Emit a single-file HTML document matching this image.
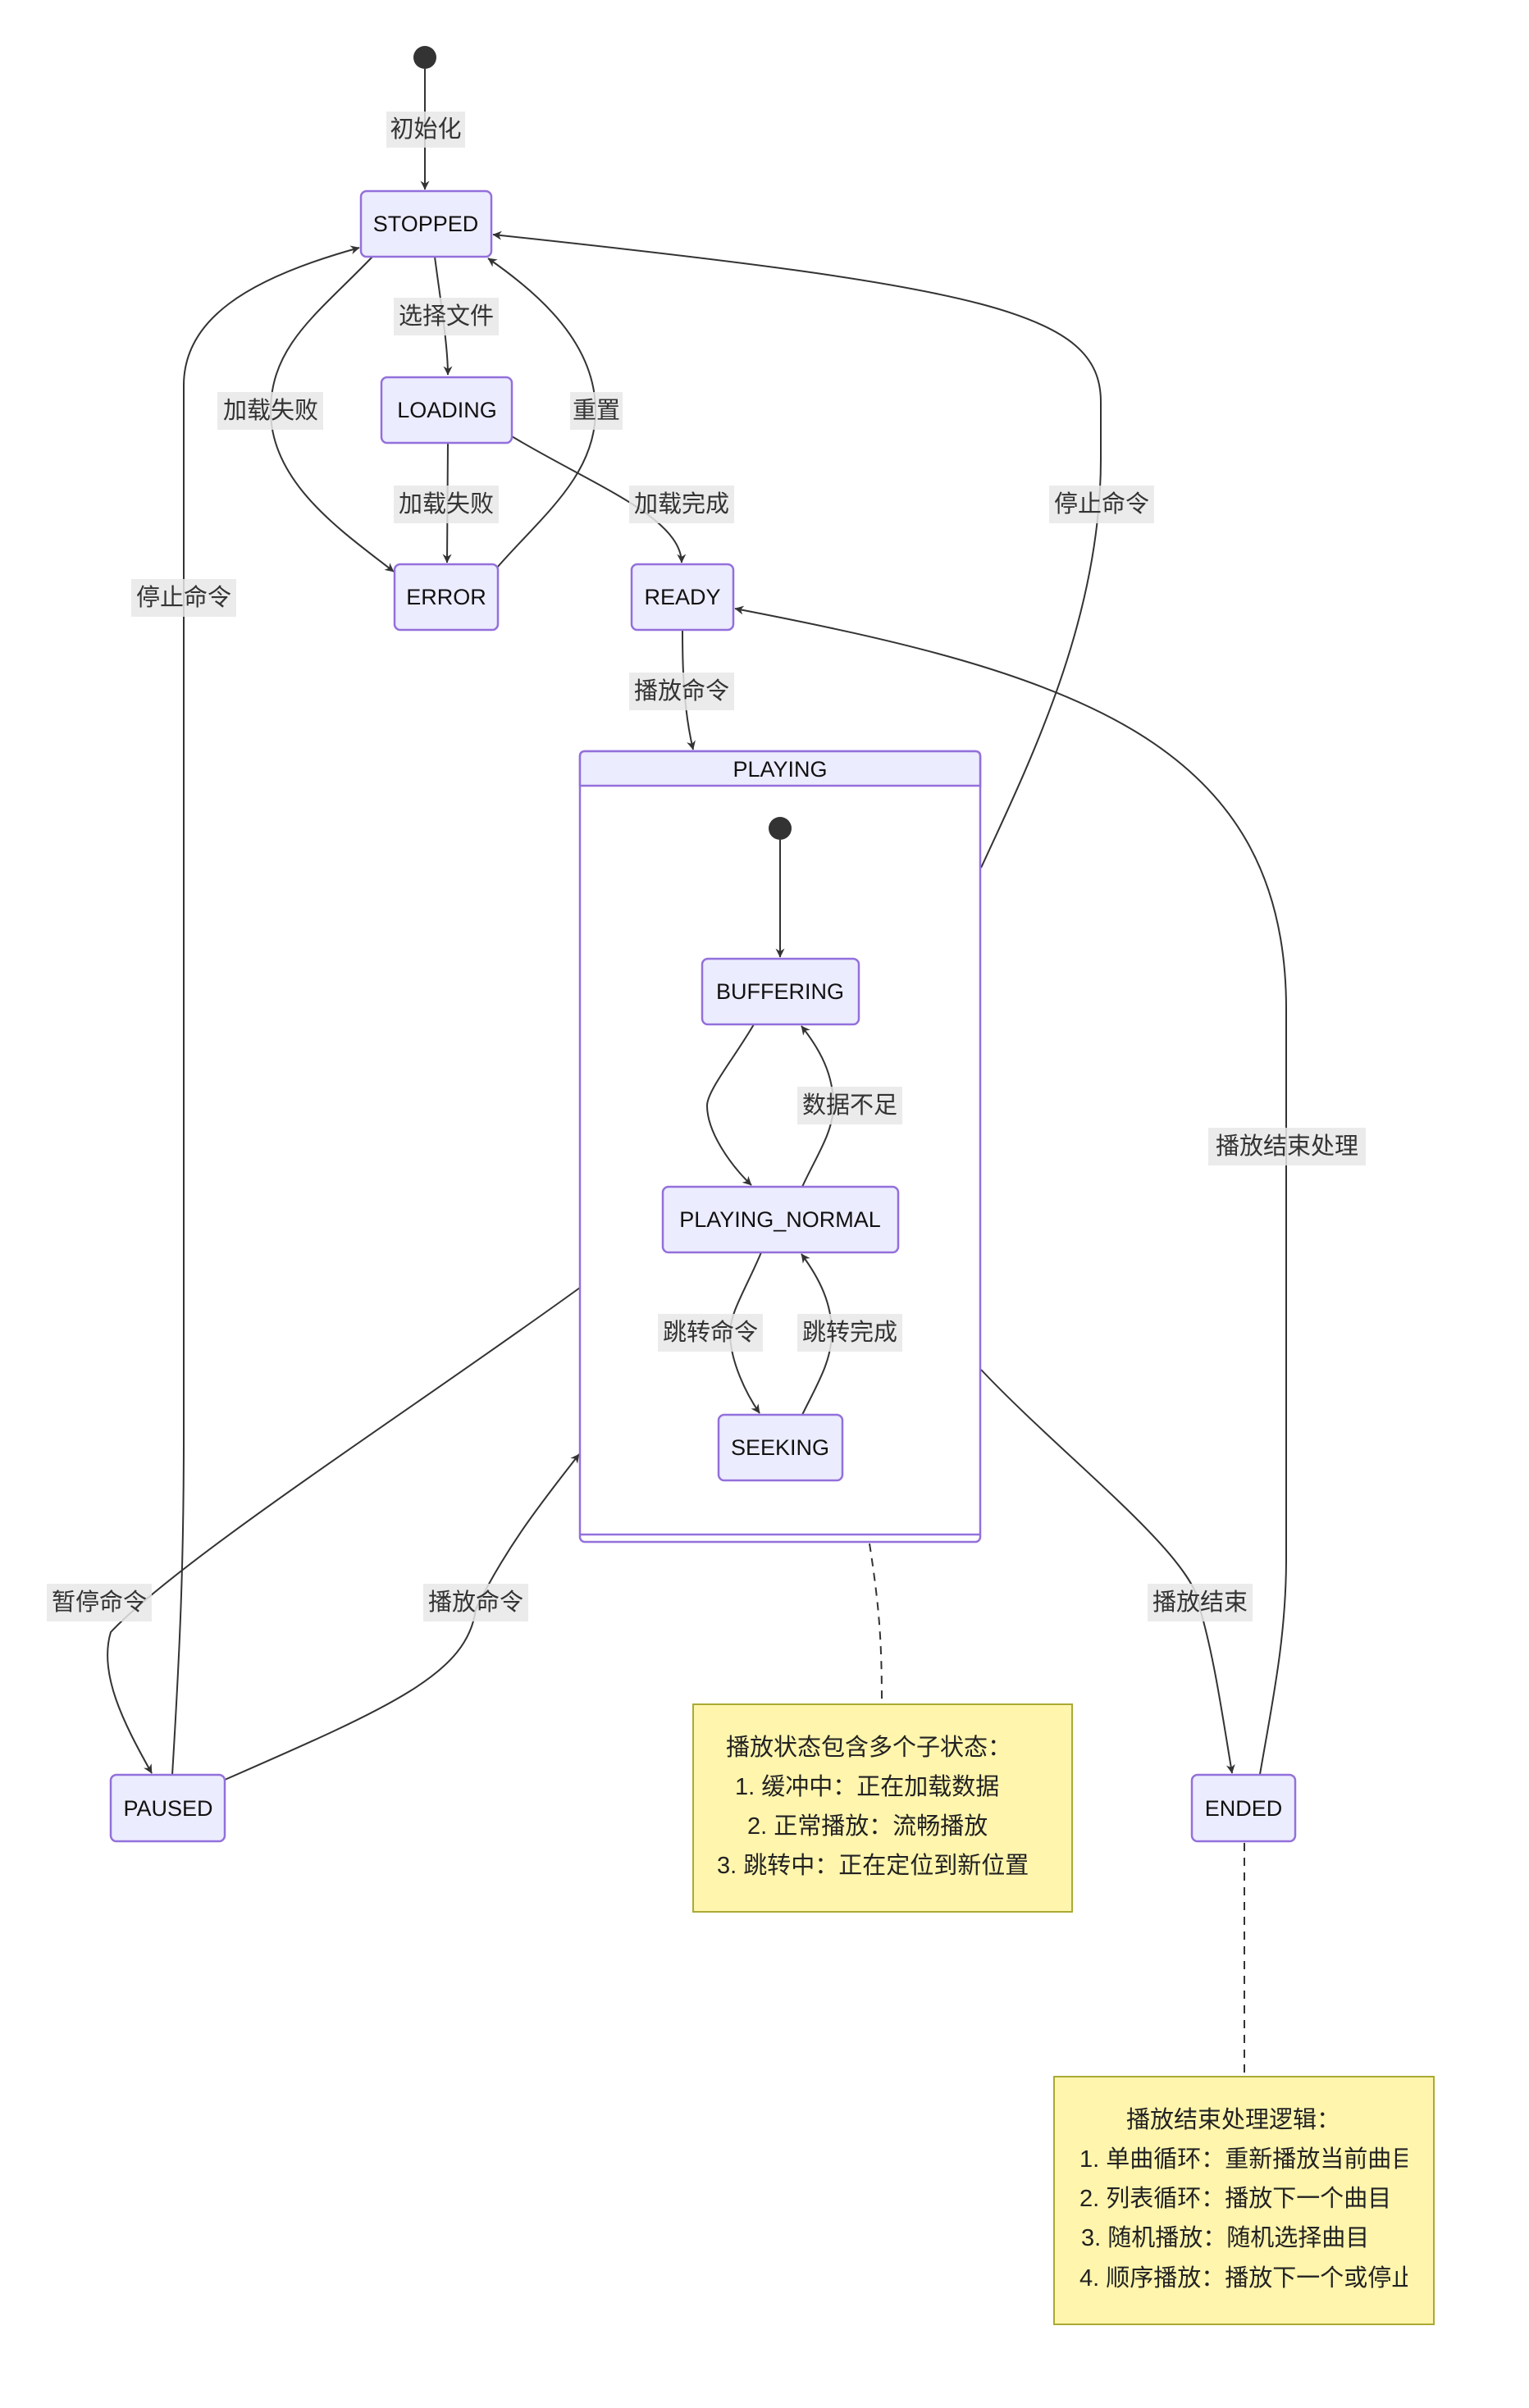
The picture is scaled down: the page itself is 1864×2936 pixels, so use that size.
<!DOCTYPE html>
<html><head><meta charset="utf-8"><style>
html,body{margin:0;padding:0;background:#fff;}
svg{display:block;}
.n{fill:#ECECFF;stroke:#9370DB;stroke-width:2.5;}
.t{font-family:"Liberation Sans","Noto Sans CJK SC",sans-serif;font-size:27px;fill:#111;text-anchor:middle;dominant-baseline:central;}
.e{fill:none;stroke:#333;stroke-width:2;}
.lb{fill:#e8e8e8;opacity:0.85;}
.l{font-family:"Liberation Sans","Noto Sans CJK SC",sans-serif;font-size:29px;fill:#333;text-anchor:middle;dominant-baseline:central;}
.nt{fill:#fff5ad;stroke:#aaaa33;stroke-width:2;}
.ntt{font-family:"Liberation Sans","Noto Sans CJK SC",sans-serif;font-size:29px;fill:#222;dominant-baseline:central;}
</style></head><body>
<svg width="1864" height="2936" viewBox="0 0 1864 2936" xmlns="http://www.w3.org/2000/svg">
<defs>
<marker id="a" viewBox="0 0 20 20" refX="19" refY="10" markerWidth="11" markerHeight="11" markerUnits="userSpaceOnUse" orient="auto"><path d="M0,0 L20,10 L0,20 L6,10 z" fill="#333"/></marker>
<clipPath id="c1"><rect x="846" y="2078" width="410" height="253"/></clipPath>
<clipPath id="c2"><rect x="1286" y="2532" width="430" height="302"/></clipPath>
</defs>

<!-- edges -->
<circle cx="518" cy="70" r="14" fill="#333"/>
<path class="e" d="M518,84 L518,231" marker-end="url(#a)"/>
<path class="e" d="M530,313 C536,360 546,420 546,457" marker-end="url(#a)"/>
<path class="e" d="M454,313 C390,380 330,420 330,501 C330,590 420,650 480,697" marker-end="url(#a)"/>
<path class="e" d="M606,692 C660,630 726,580 726,501 C726,420 660,360 595,315" marker-end="url(#a)"/>
<path class="e" d="M546,540 L545,686" marker-end="url(#a)"/>
<path class="e" d="M624,532 C720,590 830,630 831,686" marker-end="url(#a)"/>
<path class="e" d="M832,768 C832,800 832,860 845,914" marker-end="url(#a)"/>
<path class="e" d="M1196,1058 C1260,920 1342,750 1342,560 L1342,490 C1342,380 1200,350 601,286" marker-end="url(#a)"/>
<path class="e" d="M1534,2175 C1550,2080 1568,2000 1568,1900 L1568,1230 C1568,900 1300,820 896,742" marker-end="url(#a)"/>
<path class="e" d="M1196,1670 C1300,1780 1460,1900 1463,1962 C1480,2020 1490,2090 1502,2162" marker-end="url(#a)"/>
<path class="e" d="M707,1570 C500,1720 220,1900 135,1990 C120,2040 150,2100 185,2162" marker-end="url(#a)"/>
<path class="e" d="M274,2170 C480,2080 570,2040 580,1962 C620,1880 670,1820 706,1773" marker-end="url(#a)"/>
<path class="e" d="M210,2164 C220,2000 224,1900 224,1750 L224,470 C224,390 300,340 438,302" marker-end="url(#a)"/>
<path class="e" d="M1060,1882 C1072,1960 1075,2000 1075,2078" stroke-dasharray="10,8"/>
<path class="e" d="M1517,2247 L1517,2532" stroke-dasharray="10,8"/>

<!-- nodes -->
<rect class="n" x="440" y="233" width="159" height="80" rx="7"/><text class="t" x="519" y="273">STOPPED</text>
<rect class="n" x="465" y="460" width="159" height="80" rx="7"/><text class="t" x="545" y="500">LOADING</text>
<rect class="n" x="481" y="688" width="126" height="80" rx="7"/><text class="t" x="544" y="728">ERROR</text>
<rect class="n" x="770" y="688" width="124" height="80" rx="7"/><text class="t" x="832" y="728">READY</text>
<rect class="n" x="135" y="2164" width="139" height="81" rx="7"/><text class="t" x="205" y="2205">PAUSED</text>
<rect class="n" x="1453" y="2164" width="126" height="81" rx="7"/><text class="t" x="1516" y="2205">ENDED</text>

<!-- composite -->
<rect x="707" y="916" width="488" height="964" rx="6" fill="#fff" stroke="#9370DB" stroke-width="2.5"/>
<path d="M707,958 L707,922 Q707,916 713,916 L1189,916 Q1195,916 1195,922 L1195,958 Z" fill="#ECECFF" stroke="#9370DB" stroke-width="2.5"/>
<line x1="707" y1="1871" x2="1195" y2="1871" stroke="#9370DB" stroke-width="2.5"/>
<text class="t" x="951" y="938">PLAYING</text>
<circle cx="951" cy="1010" r="14" fill="#333"/>
<path class="e" d="M951,1024 L951,1167" marker-end="url(#a)"/>
<path class="e" d="M919,1249 C895,1290 862,1330 862,1348 C862,1380 890,1420 916,1445" marker-end="url(#a)"/>
<path class="e" d="M978,1447 C995,1410 1016,1380 1016,1348 C1016,1310 1000,1280 977,1251" marker-end="url(#a)"/>
<path class="e" d="M928,1527 C910,1570 890,1600 890,1625 C890,1660 910,1700 926,1723" marker-end="url(#a)"/>
<path class="e" d="M978,1725 C995,1690 1014,1660 1014,1625 C1014,1590 1000,1560 977,1529" marker-end="url(#a)"/>
<rect class="n" x="856" y="1169" width="191" height="80" rx="7"/><text class="t" x="951" y="1209">BUFFERING</text>
<rect class="n" x="808" y="1447" width="287" height="80" rx="7"/><text class="t" x="951" y="1487">PLAYING_NORMAL</text>
<rect class="n" x="876" y="1725" width="151" height="80" rx="7"/><text class="t" x="951" y="1765">SEEKING</text>

<!-- labels -->
<rect class="lb" x="471" y="136" width="96" height="44"/><text class="l" x="519" y="158">初始化</text>
<rect class="lb" x="480" y="363" width="128" height="46"/><text class="l" x="544" y="386">选择文件</text>
<rect class="lb" x="265" y="478" width="129" height="46"/><text class="l" x="330" y="501">加载失败</text>
<rect class="lb" x="695" y="478" width="64" height="46"/><text class="l" x="727" y="501">重置</text>
<rect class="lb" x="480" y="592" width="128" height="46"/><text class="l" x="544" y="615">加载失败</text>
<rect class="lb" x="767" y="592" width="128" height="46"/><text class="l" x="831" y="615">加载完成</text>
<rect class="lb" x="1279" y="592" width="128" height="46"/><text class="l" x="1343" y="615">停止命令</text>
<rect class="lb" x="160" y="706" width="128" height="46"/><text class="l" x="224" y="729">停止命令</text>
<rect class="lb" x="767" y="820" width="128" height="46"/><text class="l" x="831" y="843">播放命令</text>
<rect class="lb" x="972" y="1325" width="128" height="46"/><text class="l" x="1036" y="1348">数据不足</text>
<rect class="lb" x="1473" y="1375" width="192" height="46"/><text class="l" x="1569" y="1398">播放结束处理</text>
<rect class="lb" x="802" y="1602" width="128" height="46"/><text class="l" x="866" y="1625">跳转命令</text>
<rect class="lb" x="972" y="1602" width="128" height="46"/><text class="l" x="1036" y="1625">跳转完成</text>
<rect class="lb" x="57" y="1931" width="128" height="46"/><text class="l" x="121" y="1954">暂停命令</text>
<rect class="lb" x="516" y="1931" width="128" height="46"/><text class="l" x="580" y="1954">播放命令</text>
<rect class="lb" x="1399" y="1931" width="128" height="46"/><text class="l" x="1463" y="1954">播放结束</text>

<!-- notes -->
<rect class="nt" x="845" y="2078" width="462" height="253"/>
<g clip-path="url(#c1)">
<text class="ntt" x="885" y="2131">播放状态包含多个子状态：</text>
<text class="ntt" x="896" y="2179">1. 缓冲中：正在加载数据</text>
<text class="ntt" x="911" y="2227">2. 正常播放：流畅播放</text>
<text class="ntt" x="874" y="2275">3. 跳转中：正在定位到新位置</text>
</g>
<rect class="nt" x="1285" y="2532" width="463" height="302"/>
<g clip-path="url(#c2)">
<text class="ntt" x="1373" y="2585">播放结束处理逻辑：</text>
<text class="ntt" x="1316" y="2633">1. 单曲循环：重新播放当前曲目</text>
<text class="ntt" x="1316" y="2681">2. 列表循环：播放下一个曲目</text>
<text class="ntt" x="1318" y="2729">3. 随机播放：随机选择曲目</text>
<text class="ntt" x="1316" y="2778">4. 顺序播放：播放下一个或停止</text>
</g>
</svg>
</body></html>
